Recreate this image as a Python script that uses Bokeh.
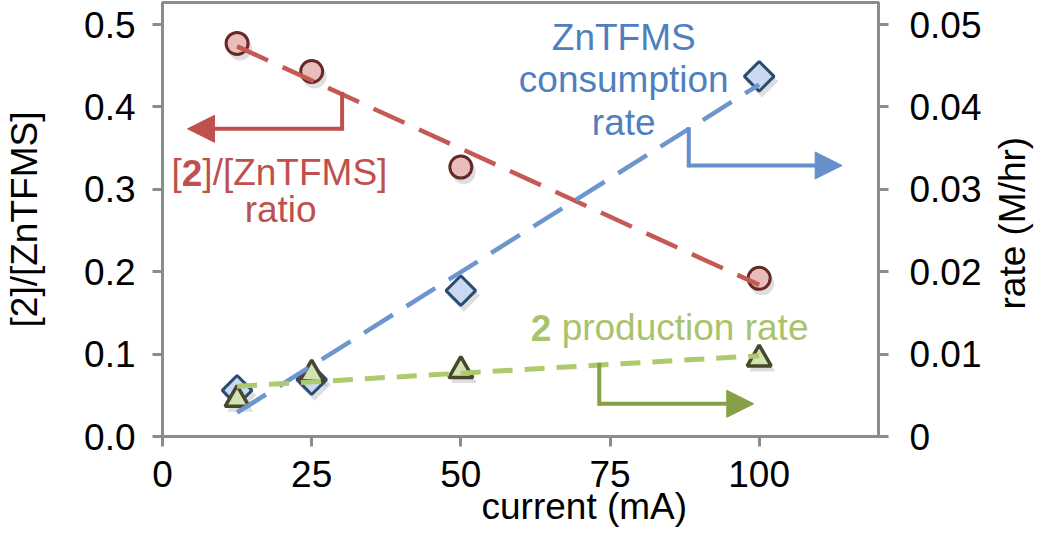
import math
from bokeh.plotting import figure
from bokeh.layouts import row
from bokeh.models import (Range1d, LinearAxis, FixedTicker, Arrow, NormalHead, Label, Title,
                          ColumnDataSource)
from bokeh.transform import dodge
from bokeh.embed import file_html
from bokeh.resources import INLINE

# ---------------- data ----------------
current_ma = [12.5, 25, 50, 100]
ratio = [0.477, 0.443, 0.327, 0.192]            # [2]/[ZnTFMS]  (left axis)
zntfms_rate = [0.0056, 0.0069, 0.0177, 0.0437]  # ZnTFMS consumption rate (right axis)
prod_rate = [0.0045, 0.0076, 0.0080, 0.0094]    # 2 production rate (right axis)

trend_x = [12.5, 100]
ratio_trend = [0.4735, 0.184]
zntfms_trend = [0.0029, 0.0427]
prod_trend = [0.0061, 0.0098]

x_ticks = [0, 25, 50, 75, 100]
left_ticks = [0.0, 0.1, 0.2, 0.3, 0.4, 0.5]
left_labels = ["0.0", "0.1", "0.2", "0.3", "0.4", "0.5"]
right_ticks = [0.0, 0.01, 0.02, 0.03, 0.04, 0.05]
right_labels = ["0", "0.01", "0.02", "0.03", "0.04", "0.05"]

# ---------------- style ----------------
FONT = "Liberation Sans"
AX = "#8C8C8C"
RED_TXT, RED_LINE = "#C0504D", "#C55A55"
BLUE_TXT, BLUE_LINE, BLUE_ARW = "#4F7FBF", "#6E96CE", "#6690CA"
GRN_TXT, GRN_LINE, GRN_ARW = "#A8C36C", "#AECA6C", "#87A046"
SIZE = "37px"
H = 533
Y_END = 0.5267

def lab(fig, text, x, y, color, bold=False, x_offset=0, align="left", angle=0.0):
    fig.add_layout(Label(x=x, y=y, text=text, text_color=color, text_font=FONT,
                         text_font_size=SIZE, text_font_style="bold" if bold else "normal",
                         text_align=align, text_baseline="middle", angle=angle,
                         x_offset=x_offset))

# ---------------- chart ----------------
p = figure(width=990, height=H, x_range=Range1d(0, 120), y_range=Range1d(0, Y_END),
           output_backend="svg", toolbar_location=None,
           min_border_left=162, min_border_right=112, min_border_top=2, min_border_bottom=97)
p.extra_y_ranges = {"rate": Range1d(0, Y_END / 10)}
p.grid.visible = False
p.outline_line_color = AX
p.outline_line_width = 3

right_axis = LinearAxis(y_range_name="rate")
p.add_layout(right_axis, "right")

for ax in (p.xaxis[0], p.yaxis[0], right_axis):
    ax.axis_line_color = AX
    ax.axis_line_width = 3
    ax.major_tick_line_color = AX
    ax.major_tick_line_width = 3
    ax.major_tick_out = 10
    ax.major_tick_in = 0
    ax.minor_tick_line_color = None
    ax.major_label_text_font = FONT
    ax.major_label_text_font_size = SIZE
    ax.major_label_text_color = "black"
    ax.axis_label_text_font = FONT
    ax.axis_label_text_font_size = SIZE
    ax.axis_label_text_font_style = "normal"
    ax.axis_label_text_color = "black"

p.xaxis[0].ticker = FixedTicker(ticks=x_ticks)
p.xaxis[0].major_label_standoff = 14

p.yaxis[0].ticker = FixedTicker(ticks=left_ticks)
p.yaxis[0].major_label_overrides = dict(zip(left_ticks, left_labels))
p.yaxis[0].major_label_standoff = 17
p.yaxis[0].axis_label = "[2]/[ZnTFMS]"
p.yaxis[0].axis_label_standoff = 36

right_axis.ticker = FixedTicker(ticks=right_ticks)
right_axis.major_label_overrides = dict(zip(right_ticks, right_labels))
right_axis.major_label_standoff = 21

p.add_layout(Title(text="current (mA)", align="left", offset=319, standoff=-12,
                   text_font=FONT, text_font_size=SIZE, text_font_style="normal",
                   text_color="black"), "below")

src = ColumnDataSource(dict(x=current_ma, ratio=ratio, zr=zntfms_rate, pr=prod_rate))

# soft shadows
p.scatter(x=dodge("x", 0.5), y=dodge("ratio", -0.006), source=src, marker="circle", size=24,
          fill_color="#000000", fill_alpha=0.13, line_color=None)
p.scatter(x=dodge("x", 0.5), y=dodge("zr", -0.0006), source=src, marker="square",
          angle=math.pi / 4, size=23, fill_color="#000000", fill_alpha=0.13, line_color=None,
          y_range_name="rate")
p.scatter(x=dodge("x", 0.5), y=dodge("pr", -0.0006), source=src, marker="triangle", size=26,
          fill_color="#000000", fill_alpha=0.13, line_color=None, y_range_name="rate")

# markers
p.scatter(x="x", y="ratio", source=src, marker="circle", size=22,
          fill_color="#E8BDBB", line_color="#652A27", line_width=3)
p.scatter(x="x", y="zr", source=src, marker="square", angle=math.pi / 4, size=21,
          fill_color="#C9DAF0", line_color="#2C4B70", line_width=3, y_range_name="rate")
p.scatter(x="x", y="pr", source=src, marker="triangle", size=24,
          fill_color="#D3E2B3", line_color="#48472D", line_width=3.5, y_range_name="rate")

# dashed trend lines (over the markers, as in the reference)
p.line(trend_x, ratio_trend, line_color=RED_LINE, line_width=4.5, line_dash="34 16")
p.line(trend_x, zntfms_trend, line_color=BLUE_LINE, line_width=4.5, line_dash="34 16",
       y_range_name="rate")
p.line(trend_x, prod_trend, line_color=GRN_LINE, line_width=5, line_dash="20 12",
       y_range_name="rate")

# bracket arrows pointing at the axis each series belongs to
def bracket(x_corner, y_top, y_arrow, x_tip, color, rng):
    kw = {} if rng is None else {"y_range_name": rng}
    p.segment(x0=[x_corner], y0=[y_top], x1=[x_corner], y1=[y_arrow], line_color=color,
              line_width=4, line_cap="square", **kw)
    p.add_layout(Arrow(x_start=x_corner, y_start=y_arrow, x_end=x_tip, y_end=y_arrow,
                       line_color=color, line_width=4,
                       end=NormalHead(size=27, fill_color=color, line_color=color, line_width=1),
                       **kw))

bracket(30.1, 0.4156, 0.3734, 4.2, RED_TXT, None)
bracket(88.2, 0.0373, 0.03289, 113.9, BLUE_ARW, "rate")
bracket(73.2, 0.0087, 0.00397, 99.1, GRN_ARW, "rate")

# annotation texts (anchors at the middle of each line of text)
lab(p, "[", 19.6, 0.3201, RED_TXT, x_offset=-108)
lab(p, "2", 19.6, 0.3201, RED_TXT, bold=True, x_offset=-97.7)
lab(p, "]/[ZnTFMS]", 19.6, 0.3201, RED_TXT, x_offset=-77.1)
lab(p, "ratio", 19.8, 0.2756, RED_TXT, align="center")

lab(p, "ZnTFMS", 77.3, 0.4840, BLUE_TXT, align="center")
lab(p, "consumption", 77.3, 0.4330, BLUE_TXT, align="center")
lab(p, "rate", 77.3, 0.3808, BLUE_TXT, align="center")

lab(p, "2", 61.7, 0.1320, GRN_TXT, bold=True)
lab(p, "production rate", 61.7, 0.1320, GRN_TXT, x_offset=31)

# ---------------- right strip with the upward-reading right-axis title ----------------
right_strip = figure(width=44, height=H, x_range=Range1d(0, 44), y_range=Range1d(0, H),
                     x_axis_type=None, y_axis_type=None, output_backend="svg",
                     toolbar_location=None, min_border=0)
right_strip.grid.visible = False
right_strip.outline_line_color = None
lab(right_strip, "rate (M/hr)", 22.2, 262, "black", align="center", angle=math.pi / 2)

layout = row(p, right_strip)
open("out.html", "w").write(file_html(layout, INLINE))
